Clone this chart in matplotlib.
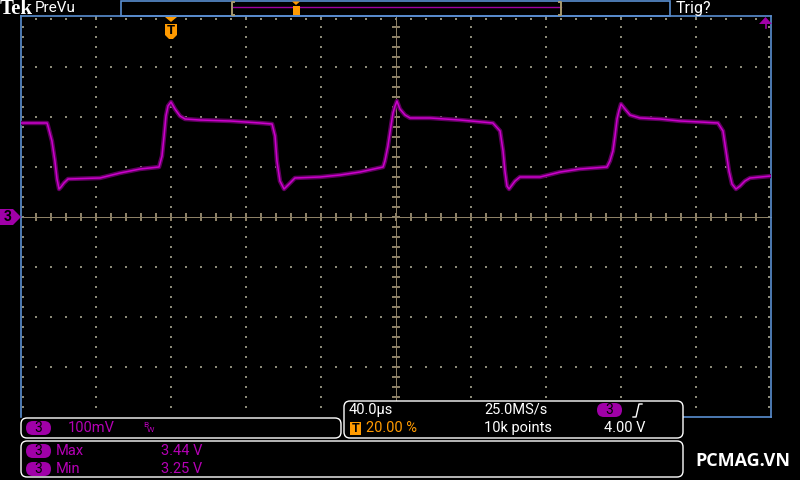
import matplotlib
matplotlib.use('Agg')
import matplotlib.pyplot as plt
from matplotlib.patches import FancyBboxPatch, Polygon, Rectangle

# channel 3 trace: time in us (trigger = 0), volts
time_us = [-80, -66.1, -65.6, -63.5, -61.9, -60.8, -59.7, -58.7, -57.1, -54.9,
           -37.9, -27.2, -16.5, -6.4, -4.8, -3.7, -2.7, -1.6, 0, 2.1,
           4.8, 7.5, 15.5, 31.5, 47.5, 53.9, 55.5, 56.5, 58.1, 60.3,
           63.5, 66.1, 79.5, 90.1, 100.8, 113.1, 114.1, 115.7, 117.3, 118.4,
           119.5, 120.5, 122.1, 124.8, 127.5, 138.1, 154.1, 171.7, 175.5, 177.1,
           178.1, 179.2, 180.3, 183.5, 186.1, 196.8, 207.5, 218.1, 232.5, 234.1,
           235.7, 236.8, 237.9, 238.9, 240.0, 242.1, 244.8, 250.1, 260.8, 271.5,
           282.1, 291.7, 294.4, 296.0, 297.6, 299.2, 301.3, 303.5, 306.1, 308.8,
           320]
volts = [3.388, 3.388, 3.382, 3.352, 3.312, 3.276, 3.256, 3.260, 3.268, 3.276,
         3.278, 3.288, 3.296, 3.300, 3.322, 3.362, 3.402, 3.422, 3.430, 3.416,
         3.402, 3.396, 3.394, 3.392, 3.388, 3.386, 3.362, 3.312, 3.272, 3.256,
         3.268, 3.278, 3.280, 3.284, 3.290, 3.300, 3.312, 3.342, 3.382, 3.408,
         3.422, 3.432, 3.416, 3.404, 3.398, 3.398, 3.394, 3.388, 3.372, 3.332,
         3.292, 3.262, 3.256, 3.272, 3.280, 3.280, 3.290, 3.296, 3.300, 3.312,
         3.332, 3.362, 3.396, 3.412, 3.426, 3.416, 3.404, 3.398, 3.396, 3.392,
         3.390, 3.388, 3.372, 3.332, 3.292, 3.266, 3.256, 3.262, 3.272, 3.278,
         3.282]

# readouts on the screen
ch_scale = '100mV'
timebase = '40.0µs'
sample_rate = '25.0MS/s'
record_len = '10k points'
trig_pos = '20.00 %'
trig_level = '4.00 V'
meas_names = ['Max', 'Min']
meas_values = ['3.44 V', '3.25 V']

# scope settings
t_per_div = 40.0
v_per_div = 0.1
v_center = 3.2
n_xdiv, n_ydiv = 10, 8
t_left = -0.2 * n_xdiv * t_per_div

BLUE = '#5a8ed0'
DOT = '#8c8a78'
AXIS = '#8c8066'
TRACE = '#cc00cc'
TRACE_DIM = '#5e005e'
PURPLE = '#a000a8'
ORANGE = '#ff9a00'
FONT = ['Roboto', 'DejaVu Sans']
PX = 0.72  # one pixel in points

fig = plt.figure(figsize=(8, 4.8), dpi=100, facecolor='black')
bg = fig.add_axes([0, 0, 1, 1])
bg.set_xlim(0, 800)
bg.set_ylim(480, 0)
bg.axis('off')
bg.set_facecolor('black')

# graticule edges in pixels
GL, GR, GT, GB = 21, 771, 17, 417
CX, CY = 396, 217


def dots(xs, ys, color=DOT, s=0.9):
    bg.scatter(xs, ys, s=s, marker='s', color=color, linewidths=0, zorder=2)


def txt(x, y, s, color='white', size=10.5, **kw):
    bg.text(x, y, s, color=color, fontsize=size, va='center', ha='left',
            family=FONT, zorder=6, **kw)


def badge(x, y):
    bg.add_patch(FancyBboxPatch((x, y - 7), 25, 14, boxstyle='round,pad=0,rounding_size=7',
                                fc=PURPLE, ec='none', zorder=6))
    bg.text(x + 12.5, y, '3', color='black', fontsize=10, ha='center', va='center',
            family=FONT, zorder=7)


# dotted grid
for k in range(1, n_xdiv):
    if k == n_xdiv // 2:
        continue
    x = GL + 75 * k
    ys = list(range(GT, GB, 10))
    dots([x] * len(ys), ys)
for k in range(1, n_ydiv):
    if k == n_ydiv // 2:
        continue
    y = GT + 50 * k
    xs = list(range(GL + 15, GR, 15))
    dots(xs, [y] * len(xs))

# centre cross with minor ticks
bg.plot([GL, GR], [CY, CY], color=AXIS, lw=PX, zorder=2)
bg.plot([CX, CX], [GT, GB], color=AXIS, lw=PX, zorder=2)
for x in range(GL + 15, GR, 15):
    dots([x] * 4, [CY - 3, CY - 1.5, CY + 1.5, CY + 3], AXIS, s=0.6)
for y in range(GT + 10, GB, 10):
    dots([CX - 3, CX - 1.5, CX + 1.5, CX + 3], [y] * 4, AXIS, s=0.6)

# border ticks
xs = list(range(GL + 15, GR, 15))
dots(xs, [GT + 2] * len(xs))
ys = list(range(GT + 10, GB, 10))
dots([GL + 2] * len(ys), ys)
dots([GR - 2] * len(ys), ys)

# graticule frame
bg.plot([GL, GL], [16, GB], color=BLUE, lw=1.2, zorder=3)
bg.plot([GR, GR], [16, GB], color=BLUE, lw=1.2, zorder=3)
bg.plot([GL, GR], [16, 16], color=BLUE, lw=1.2, zorder=3)
bg.plot([683, GR], [GB, GB], color=BLUE, lw=1.2, zorder=3)

# top bar
bg.text(0, 8.5, 'Tek', color='white', fontsize=15, fontweight='bold', va='center',
        family=['Liberation Serif', 'DejaVu Serif'])
txt(35, 8, 'PreVu', size=11)
txt(676, 8, 'Trig?', size=11.5)
bg.add_patch(Rectangle((121, 0.5), 549, 15.5, fc='none', ec=BLUE, lw=1.2, zorder=3))
bg.plot([233, 561], [7, 7], color='#a000a0', lw=1.0, zorder=3)
bg.plot([234, 232, 232, 234], [1.5, 1.5, 14.5, 14.5], color='#a89a70', lw=1.4, zorder=4)
bg.plot([559, 561, 561, 559], [1.5, 1.5, 14.5, 14.5], color='#a89a70', lw=1.4, zorder=4)
bg.add_patch(Polygon([(292, 1.5), (300, 1.5), (296, 5)], fc=ORANGE, ec='none', zorder=4))
bg.add_patch(Rectangle((293, 5.5), 7, 9.5, fc=ORANGE, ec='none', zorder=4))

# trigger position marker
bg.add_patch(Polygon([(165, 17), (177, 17), (171, 22)], fc=ORANGE, ec='none', zorder=4))
bg.add_patch(Polygon([(165, 24), (177, 24), (177, 35), (173, 39), (169, 39), (165, 35)],
                     fc=ORANGE, ec='none', zorder=4))
bg.text(171, 31, 'T', color='black', fontsize=9.5, fontweight='bold', ha='center',
        va='center', family=FONT, zorder=5)

# trigger level arrow
bg.add_patch(Polygon([(759, 24), (772, 24), (765.5, 17)], fc=PURPLE, ec='none', zorder=4))
bg.plot([765.5, 765.5], [24, 28], color=PURPLE, lw=1.2, zorder=4)

# channel 3 ground marker
bg.add_patch(Polygon([(0, 209), (13, 209), (21, 217), (13, 225), (0, 225)],
                     fc=PURPLE, ec='none', zorder=4))
bg.text(8, 217, '3', color='black', fontsize=10, fontweight='bold', ha='center',
        va='center', family=FONT, zorder=5)

# waveform in its own axes, scaled by the scope settings
scope = fig.add_axes([GL / 800, 1 - GB / 480, (GR - GL) / 800, (GB - GT) / 480])
scope.set_xlim(t_left, t_left + n_xdiv * t_per_div)
scope.set_ylim(v_center - n_ydiv / 2 * v_per_div, v_center + n_ydiv / 2 * v_per_div)
scope.axis('off')
scope.patch.set_alpha(0)
scope.plot(time_us, volts, color=TRACE_DIM, lw=3.2, solid_joinstyle='round')
scope.plot(time_us, volts, color=TRACE, lw=1.1, solid_joinstyle='round')

# readout boxes
for (x0, y0, w, h) in [(21, 418, 320, 20), (344, 401, 339, 37), (21, 441, 662, 36)]:
    bg.add_patch(FancyBboxPatch((x0, y0), w, h, boxstyle='round,pad=0,rounding_size=6',
                                fc='black', ec='white', lw=1.0, zorder=5))

badge(26, 428)
txt(68, 428, ch_scale, color='#b400b4')
txt(143, 425, 'B', color='#b400b4', size=6)
txt(147, 430, 'W', color='#b400b4', size=6)

txt(349, 410, timebase)
txt(484, 410, sample_rate)
badge(597, 410)
bg.plot([633, 636, 639, 642], [417, 417, 404, 404], color='white', lw=1.0, zorder=6)
bg.add_patch(Rectangle((350, 422), 11, 13, fc=ORANGE, ec='none', zorder=6))
bg.text(355.5, 428.5, 'T', color='black', fontsize=9, fontweight='bold', ha='center',
        va='center', family=FONT, zorder=7)
txt(366, 428, trig_pos, color=ORANGE)
txt(484, 428, record_len)
txt(604, 428, trig_level)

for i, (name, val) in enumerate(zip(meas_names, meas_values)):
    y = 451 + 18 * i
    badge(26, y)
    txt(56, y, name, color='#b400b4')
    txt(161, y, val, color='#b400b4')

bg.text(695, 461, 'PCMAG.VN', color='white', fontsize=13, fontweight='bold',
        va='center', ha='left', family=['Open Sans', 'DejaVu Sans'], zorder=6)

fig.savefig('out.png', dpi=100, facecolor='black')
